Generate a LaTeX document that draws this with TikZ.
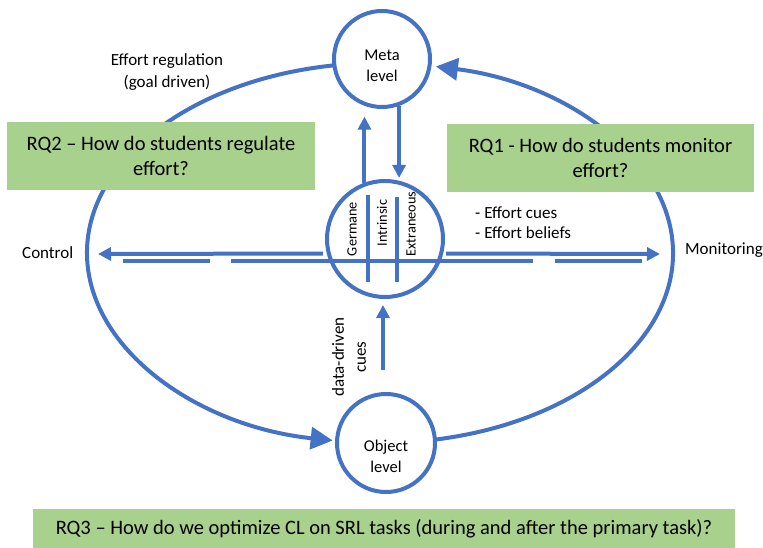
\documentclass[tikz,border=0pt]{standalone}
\usepackage{fontspec}
\setmainfont{Carlito}
\usepackage{tikz}
\usetikzlibrary{arrows.meta,calc}
\definecolor{loopblue}{HTML}{4472C4}
\definecolor{rqgreen}{HTML}{A9D18E}

\begin{document}
\begin{tikzpicture}[x=1pt,y=-1pt,
  ring/.style={circle, draw=loopblue, line width=4pt, fill=white, inner sep=0pt},
  loopline/.style={draw=loopblue, line width=4pt, -{Triangle[length=22pt,width=22pt]}},
  flow/.style={draw=loopblue, line width=4pt, -{Triangle[length=13pt,width=13pt]}},
  bar/.style={draw=loopblue, line width=4pt},
  rq/.style={fill=rqgreen, inner sep=0pt, align=center, font=\fontsize{20.5}{25.5}\selectfont},
  lbl/.style={inner sep=0pt, align=center, font=\fontsize{17}{21.5}\selectfont},
  small/.style={inner sep=0pt, rotate=90, font=\fontsize{14.3}{16}\selectfont}]

\useasboundingbox (0,0) rectangle (763,548);

% outer loop
\coordinate (ellc) at (380,253);
\draw[loopline] ([shift={(261:293 and 190)}]ellc) arc[start angle=261, end angle=99.3, x radius=293, y radius=190];
\draw[loopline] ([shift={(79:293 and 190)}]ellc) arc[start angle=79, end angle=-79, x radius=293, y radius=190];

% levels
\node[ring, minimum size=96pt] (meta) at (382,59) {};
\node[ring, minimum size=116pt] (cl) at (385,239) {};
\node[ring, minimum size=98pt] (obj) at (386,443) {};
\node[lbl, font=\fontsize{16.5}{21}\selectfont] (metatxt) at (382,66) {Meta\\level};
\node[lbl, font=\fontsize{16.5}{21}\selectfont] (objtxt) at (386,456) {Object\\level};

% research questions
\node[rq, minimum width=308pt, minimum height=68pt] (rq2) at (161,156) {RQ2 – How do students regulate\\effort?};
\node[rq, minimum width=307pt, minimum height=68pt] (rq1) at (600.5,158) {RQ1 - How do students monitor\\effort?};
\node[rq, minimum width=702pt, minimum height=39pt] (rq3) at (384,528.5) {RQ3 – How do we optimize CL on SRL tasks (during and after the primary task)?};

% meta <-> load <- object
\draw[flow] (cl.110) -- ++(0,-66);
\draw[flow] (meta.-70) -- ++(0,72);
\draw[flow] ($(obj.north)+(-3,-22)$) -- ($(cl.south)+(-2,6)$);

% control / monitoring
\coordinate (ctrltip) at (98,254);
\coordinate (montip) at (660,254);
\draw[flow] ([xshift=-4pt]cl.194) -- (ctrltip);
\draw[flow] ([xshift=3pt]cl.-14) -- (montip);
\draw[bar] (123,261) -- (210,261);
\draw[bar] (231,261) -- (533,261);
\draw[bar] (555,261) -- (642,261);
\draw[bar] (368,195) -- (368,282);
\draw[bar] (397,197) -- (397,282);

% labels
\node[small] (germane) at (352,229) {Germane};
\node[small] (intrinsic) at (382,223) {Intrinsic};
\node[small] (extraneous) at (411,224) {Extraneous};
\node[lbl] (regul) at (167,72) {Effort regulation\\(goal driven)};
\node[lbl, anchor=west] (control) at (22,253) {Control};
\node[lbl, anchor=west] (monit) at (685,250) {Monitoring};
\node[lbl, align=left, anchor=west, font=\fontsize{17}{20}\selectfont] (cues) at (475,223) {- Effort cues\\- Effort beliefs};
\node[lbl, rotate=90, font=\fontsize{17}{22}\selectfont] (datacues) at (349,357) {data-driven\\cues};
\end{tikzpicture}
\end{document}
